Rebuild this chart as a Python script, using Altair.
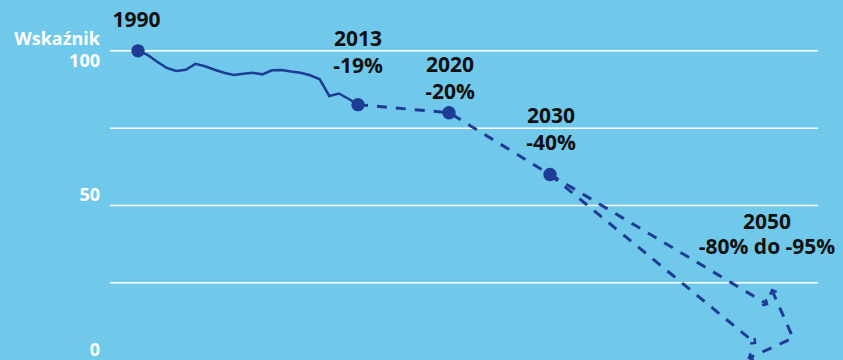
import altair as alt
import pandas as pd

# ---------------- data ----------------
HIST_YEARS = list(range(1990, 2014))
HIST_VALUES = [100, 98.7, 96.5, 94.5, 93.5, 93.9, 95.8, 95.0, 93.9, 92.9, 92.2, 92.6,
               92.9, 92.4, 93.7, 93.8, 93.3, 92.9, 92.1, 90.8, 85.4, 86.2, 84.5, 82.6]
TARGET_YEARS = [2013, 2020, 2030]
TARGET_VALUES = [82.6, 80, 60]
DOT_YEARS = [1990, 2013, 2020, 2030]
DOT_VALUES = [100, 82.6, 80, 60]
HIGH_YEARS = [2030, 2050]
HIGH_VALUES = [60, 18.1]
LOW_YEARS = [2030, 2048.9]
LOW_VALUES = [60, 5.5]
SPAN_YEARS = [2050.46, 2052.4, 2048.34]
SPAN_VALUES = [22.6, 7.1, 0.65]
TIP_YEARS = [2050, 2048.9, 2050.46, 2048.34]
TIP_VALUES = [18.1, 5.5, 22.6, 0.65]
GRID_VALUES = [100, 75, 50, 25]
AXIS_TOP_VALUES = [100]
AXIS_LOW_VALUES = [50, 0]
AXIS_TITLE = "Wskaźnik"
LABEL_YEARS_TXT = ["1990", "2013", "2020", "2030", "2050"]
LABEL_CHANGE_TXT = ["", "-19%", "-20%", "-40%", "-80% do -95%"]
LABEL_YEARS = [1990, 2013, 2020, 2030, 2050]
LABEL_VALUES = [100, 82.6, 80, 60, 18.1]

# ---------------- styles ----------------
BG = "#70C8EA"
BLUE = "#1E3C96"
FONT = "Open Sans"
TIP_ANGLES = [30.8, 39.4, 246.4, 155.6]
LABEL_DX = [-1.5, 0, 1, 1, 0]
LABEL_DY = [-30, -64.5, -46.2, -57.5, -81.5]
LINE_GAP = [25, 27, 27, 27, 25.5]
DASH = [10, 9]

X_SCALE = alt.Scale(domain=[1990, 2013, 2020, 2030, 2050],
                    range=[28, 248, 339, 440, 657], nice=False, zero=False)
Y_SCALE = alt.Scale(domain=[0, 116.45], nice=False, zero=False)


def X():
    return alt.X("year:Q", scale=X_SCALE, axis=None)


def Y():
    return alt.Y("v:Q", scale=Y_SCALE, axis=None)


grid = alt.Chart(pd.DataFrame({"v": GRID_VALUES})).mark_rule(
    color="white", strokeWidth=1.5
).encode(y=Y())

axis_style = dict(font=FONT, fontSize=18, fontWeight="bold", color="white", align="right")

axis_top = alt.Chart(pd.DataFrame({"v": AXIS_TOP_VALUES})).mark_text(
    baseline="top", dy=2.5, **axis_style
).encode(x=alt.value(-10), y=Y(), text=alt.Text("v:Q", format="d"))

axis_low = alt.Chart(pd.DataFrame({"v": AXIS_LOW_VALUES})).mark_text(
    baseline="bottom", **axis_style
).encode(x=alt.value(-10), y=Y(), text=alt.Text("v:Q", format="d"))

axis_title = alt.Chart(pd.DataFrame({"v": AXIS_TOP_VALUES, "t": [AXIS_TITLE]})).mark_text(
    baseline="middle", dy=-11, **axis_style
).encode(x=alt.value(-10), y=Y(), text="t:N")

hist = alt.Chart(pd.DataFrame({"year": HIST_YEARS, "v": HIST_VALUES})).mark_line(
    color=BLUE, strokeWidth=2.5
).encode(x=X(), y=Y())

target = alt.Chart(pd.DataFrame({"year": TARGET_YEARS, "v": TARGET_VALUES})).mark_line(
    color=BLUE, strokeWidth=3, strokeDash=DASH
).encode(x=X(), y=Y())

high = alt.Chart(pd.DataFrame({"year": HIGH_YEARS, "v": HIGH_VALUES})).mark_line(
    color=BLUE, strokeWidth=3, strokeDash=DASH
).encode(x=X(), y=Y())

low = alt.Chart(pd.DataFrame({"year": LOW_YEARS, "v": LOW_VALUES})).mark_line(
    color=BLUE, strokeWidth=3, strokeDash=DASH
).encode(x=X(), y=Y())

span = alt.Chart(pd.DataFrame({"year": SPAN_YEARS, "v": SPAN_VALUES,
                               "i": list(range(len(SPAN_YEARS)))})).mark_line(
    color=BLUE, strokeWidth=3, strokeDash=DASH
).encode(x=X(), y=Y(), order=alt.Order("i:Q"))

tips = alt.Chart(pd.DataFrame({"year": TIP_YEARS, "v": TIP_VALUES, "a": TIP_ANGLES})).mark_point(
    shape="M -1 -1 L 0 0 L -1 1", filled=False, size=50, strokeWidth=2.5,
    color=BLUE, opacity=1
).encode(x=X(), y=Y(), angle=alt.Angle("a:Q", scale=None))

dots = alt.Chart(pd.DataFrame({"year": DOT_YEARS, "v": DOT_VALUES})).mark_circle(
    size=180, color=BLUE, opacity=1
).encode(x=X(), y=Y())

text_style = dict(font=FONT, fontSize=21, fontWeight="bold", color="#111111",
                  baseline="middle", align="center")
labels = []
for t1, t2, yr, val, dx, dy, gap in zip(LABEL_YEARS_TXT, LABEL_CHANGE_TXT, LABEL_YEARS,
                                        LABEL_VALUES, LABEL_DX, LABEL_DY, LINE_GAP):
    src = pd.DataFrame({"year": [yr], "v": [val], "t1": [t1], "t2": [t2]})
    labels.append(alt.Chart(src).mark_text(dx=dx, dy=dy, **text_style)
                  .encode(x=X(), y=Y(), text="t1:N"))
    if t2:
        labels.append(alt.Chart(src).mark_text(dx=dx, dy=dy + gap, **text_style)
                      .encode(x=X(), y=Y(), text="t2:N"))

chart = alt.layer(grid, axis_top, axis_low, axis_title, hist, target, high, low, span,
                  tips, dots, *labels).properties(
    width=708, height=360,
    padding={"left": 110, "right": 25, "top": 0, "bottom": 0},
    autosize=alt.AutoSizeParams(type="none"),
    background=BG,
).configure_view(stroke=None)

chart.save("out.html", embed_options={"renderer": "svg", "actions": False})
